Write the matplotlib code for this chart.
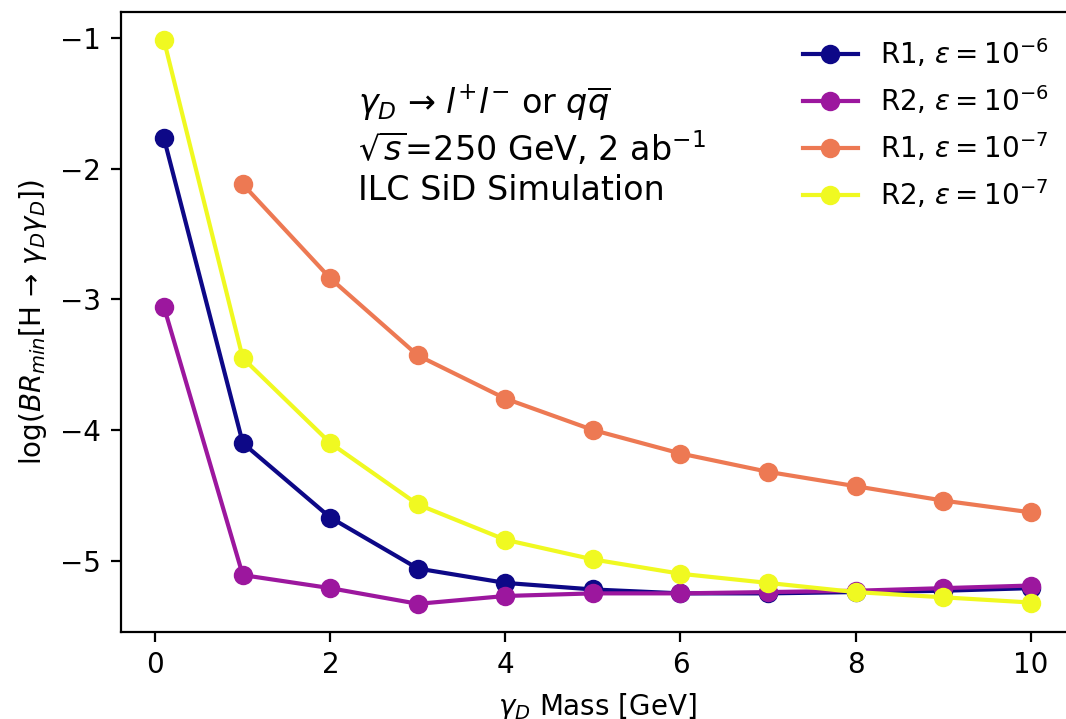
import matplotlib
matplotlib.use("Agg")
import matplotlib.pyplot as plt
import numpy as np

# dark photon mass points [GeV]
mass = [0.1, 1, 2, 3, 4, 5, 6, 7, 8, 9, 10]
mass_no_low = [1, 2, 3, 4, 5, 6, 7, 8, 9, 10]

# log(BR_min)
r1_eps6 = [-1.77, -4.10, -4.67, -5.06, -5.17, -5.22, -5.25, -5.25, -5.24, -5.23, -5.21]
r2_eps6 = [-3.06, -5.11, -5.21, -5.33, -5.27, -5.25, -5.25, -5.24, -5.23, -5.21, -5.19]
r1_eps7 = [-2.12, -2.84, -3.43, -3.76, -4.00, -4.18, -4.32, -4.43, -4.54, -4.63]
r2_eps7 = [-1.02, -3.45, -4.10, -4.57, -4.84, -4.99, -5.10, -5.17, -5.24, -5.28, -5.32]

cmap = plt.get_cmap("plasma")
colors = [cmap(0.0), cmap(1/3), cmap(2/3), cmap(1.0)]

fig = plt.figure(figsize=(5.33, 3.595), dpi=200)
ax = fig.add_axes([0.1132, 0.121, 0.8943, 0.8619])

ax.plot(mass, r1_eps6, "o-", color=colors[0], label=r"R1, $\epsilon=10^{-6}$")
ax.plot(mass, r2_eps6, "o-", color=colors[1], label=r"R2, $\epsilon=10^{-6}$")
ax.plot(mass_no_low, r1_eps7, "o-", color=colors[2], label=r"R1, $\epsilon=10^{-7}$")
ax.plot(mass, r2_eps7, "o-", color=colors[3], label=r"R2, $\epsilon=10^{-7}$")

ax.set_xlabel(r"$\gamma_D$ Mass [GeV]")
ax.set_ylabel(r"log($BR_{min}$[H → $\gamma_D \gamma_D$])")

ax.text(2.32, -1.82,
        "$\\gamma_D$ → $l^{+}l^{-}$ or $q\\overline{q}$\n"
        "$\\sqrt{s}$=250 GeV, 2 ab$^{-1}$\n"
        "ILC SiD Simulation",
        fontsize=12, ha="left", va="center")

ax.legend(loc="upper right", frameon=False)

fig.savefig("out.png", dpi=200)
